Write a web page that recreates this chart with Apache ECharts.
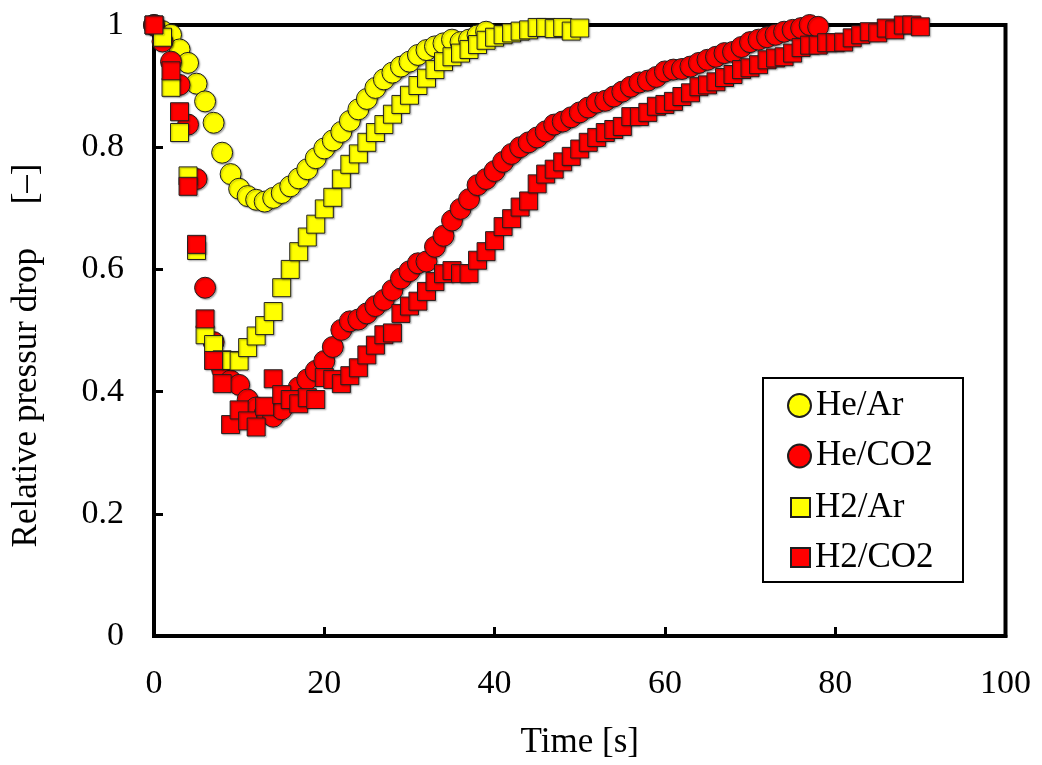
<!DOCTYPE html>
<html>
<head>
<meta charset="utf-8">
<script src="https://cdn.jsdelivr.net/npm/echarts@6/dist/echarts.min.js"></script>
<style>
  html, body { margin: 0; padding: 0; background: #ffffff; }
  #chart { width: 1042px; height: 765px; }
</style>
</head>
<body>
<div id="chart"></div>
<script>
// Relative pressure drop versus time for four gas pairs.
const xTicks = [0, 20, 40, 60, 80, 100];
const yTicks = [0, 0.2, 0.4, 0.6, 0.8, 1];

const heArTime = [0,1,2,3,4,5,6,7,8,9,10,11,12,13,14,15,16,17,18,19,20,21,22,23,24,25,26,27,28,29,30,31,32,33,34,35,36,37,38,39];
const heArValue = [1.000,0.990,0.984,0.960,0.938,0.904,0.875,0.840,0.791,0.756,0.732,0.720,0.714,0.711,0.717,0.725,0.736,0.749,0.764,0.782,
  0.798,0.811,0.825,0.843,0.862,0.879,0.897,0.911,0.922,0.932,0.940,0.951,0.959,0.965,0.970,0.976,0.972,0.976,0.983,0.989];

const heCo2Time = [0,1,2,3,4,5,6,7,8,9,10,11,12,13,14,15,16,17,18,19,20,21,22,23,24,25,26,27,28,29,30,31,32,33,34,35,36,37,38,39,
  40,41,42,43,44,45,46,47,48,49,50,51,52,53,54,55,56,57,58,59,60,61,62,63,64,65,66,67,68,69,70,71,72,73,74,75,76,77,78];
const heCo2Value = [1.000,0.973,0.940,0.902,0.837,0.748,0.570,0.481,0.436,0.418,0.411,0.387,0.374,0.364,0.359,0.371,0.390,0.407,0.420,0.434,
  0.450,0.473,0.501,0.515,0.518,0.528,0.540,0.550,0.566,0.585,0.597,0.610,0.613,0.637,0.655,0.680,0.699,0.715,0.738,0.748,
  0.761,0.776,0.789,0.800,0.808,0.816,0.826,0.837,0.842,0.849,0.857,0.865,0.873,0.876,0.883,0.891,0.899,0.906,0.909,0.915,
  0.924,0.927,0.928,0.932,0.938,0.943,0.948,0.954,0.956,0.964,0.972,0.976,0.980,0.984,0.989,0.992,0.995,1.000,0.997];

const h2ArTime = [0,1,2,3,4,5,6,7,8,9,10,11,12,13,14,15,16,17,18,19,20,21,22,23,24,25,26,27,28,29,30,31,32,33,34,35,36,37,38,39,
  40,41,42,43,44,45,46,47,48,49,50];
const h2ArValue = [1.000,0.980,0.898,0.824,0.753,0.631,0.493,0.477,0.452,0.451,0.450,0.472,0.491,0.508,0.531,0.570,0.600,0.629,0.653,0.674,
  0.699,0.718,0.748,0.772,0.789,0.808,0.824,0.837,0.854,0.870,0.885,0.901,0.913,0.927,0.940,0.948,0.954,0.960,0.968,0.975,
  0.980,0.984,0.987,0.990,0.992,0.996,0.996,0.994,0.996,0.990,0.995];

const h2Co2Time = [0,2,3,4,5,6,7,8,9,10,11,12,13,14,15,16,17,18,19,20,21,22,23,24,25,26,27,28,29,30,31,32,33,34,35,36,37,38,39,
  40,41,42,43,44,45,46,47,48,49,50,51,52,53,54,55,56,57,58,59,60,61,62,63,64,65,66,67,68,69,70,71,72,73,74,75,76,77,78,79,
  80,81,82,83,84,85,86,87,88,89,90];
const h2Co2Value = [1.000,0.925,0.858,0.736,0.641,0.519,0.451,0.413,0.346,0.370,0.352,0.342,0.376,0.421,0.395,0.387,0.380,0.390,0.387,
  0.423,0.420,0.413,0.426,0.439,0.460,0.476,0.493,0.496,0.528,0.540,0.548,0.564,0.580,0.593,0.598,0.593,0.593,0.615,0.629,
  0.647,0.670,0.683,0.702,0.712,0.740,0.756,0.764,0.776,0.785,0.797,0.808,0.816,0.824,0.829,0.834,0.850,0.850,0.857,0.867,
  0.870,0.875,0.883,0.889,0.899,0.902,0.907,0.914,0.919,0.927,0.930,0.935,0.943,0.946,0.948,0.954,0.963,0.967,0.967,0.971,
  0.971,0.972,0.979,0.984,0.989,0.987,0.995,0.992,1.000,1.000,0.997];

const seriesNames = ['He/Ar', 'He/CO2', 'H2/Ar', 'H2/CO2'];

const FONT = 'Liberation Serif';
const zip = (xs, ys) => xs.map((x, i) => [x, ys[i]]);

const markStyle = (color) => ({
  color: color,
  opacity: 1,
  borderColor: '#1e1e1e',
  borderWidth: 1,
  shadowColor: 'rgba(0,0,0,0.3)',
  shadowBlur: 1.5,
  shadowOffsetX: 1.2,
  shadowOffsetY: 1.2
});

const scatter = (name, times, values, symbol, size, color) => ({
  name: name,
  type: 'scatter',
  symbol: symbol,
  symbolSize: size,
  clip: false,
  itemStyle: markStyle(color),
  emphasis: { disabled: true },
  data: zip(times, values)
});

const legendText = { fontFamily: FONT, fontSize: 35, color: '#000', lineHeight: 35 };

const chart = echarts.init(document.getElementById('chart'), null, { renderer: 'canvas' });
chart.setOption({
  animation: false,
  backgroundColor: '#ffffff',
  grid: {
    left: 154, right: 36.5, top: 25, bottom: 125,
    show: true, borderColor: '#000', borderWidth: 4, backgroundColor: 'transparent'
  },
  xAxis: {
    type: 'value',
    min: xTicks[0], max: xTicks[xTicks.length - 1], interval: xTicks[1] - xTicks[0],
    axisLine: { show: true, onZero: false, lineStyle: { color: '#000', width: 4 } },
    axisTick: { show: true, inside: true, length: 9, lineStyle: { color: '#000', width: 3 } },
    splitLine: { show: false },
    axisLabel: { margin: 31, color: '#000', fontFamily: FONT, fontSize: 34 },
    name: 'Time [s]',
    nameLocation: 'middle',
    nameGap: 89,
    nameTextStyle: { color: '#000', fontFamily: FONT, fontSize: 35 }
  },
  yAxis: {
    type: 'value',
    min: yTicks[0], max: yTicks[yTicks.length - 1], interval: yTicks[1] - yTicks[0],
    axisLine: { show: true, onZero: false, lineStyle: { color: '#000', width: 4 } },
    axisTick: { show: true, inside: true, length: 9, lineStyle: { color: '#000', width: 3 } },
    splitLine: { show: false },
    axisLabel: { margin: 30, color: '#000', fontFamily: FONT, fontSize: 34 },
    name: 'Relative pressur drop     [\u2013]',
    nameLocation: 'middle',
    nameGap: 110,
    nameTextStyle: { color: '#000', fontFamily: FONT, fontSize: 35, padding: [0, 50, 0, 0] }
  },
  legend: [
    {
      data: [{ name: seriesNames[0], icon: 'circle' }, { name: seriesNames[1], icon: 'circle' }],
      orient: 'vertical', left: 787, top: 388, padding: 0,
      itemWidth: 23, itemHeight: 23, itemGap: 15.5,
      selectedMode: false, textStyle: legendText
    },
    {
      data: [{ name: seriesNames[2], icon: 'rect' }, { name: seriesNames[3], icon: 'rect' }],
      orient: 'vertical', left: 790, top: 490, padding: 0,
      itemWidth: 19, itemHeight: 19, itemGap: 15,
      selectedMode: false, textStyle: legendText
    }
  ],
  graphic: [{
    type: 'rect',
    z: 3,
    shape: { x: 763, y: 378, width: 200, height: 204 },
    style: { fill: '#ffffff', stroke: '#000', lineWidth: 2 }
  }],
  series: [
    scatter(seriesNames[0], heArTime, heArValue, 'circle', 21, '#ffff00'),
    scatter(seriesNames[1], heCo2Time, heCo2Value, 'circle', 21, '#ff0000'),
    scatter(seriesNames[2], h2ArTime, h2ArValue, 'rect', 18, '#ffff00'),
    scatter(seriesNames[3], h2Co2Time, h2Co2Value, 'rect', 18, '#ff0000')
  ]
});
</script>
</body>
</html>
